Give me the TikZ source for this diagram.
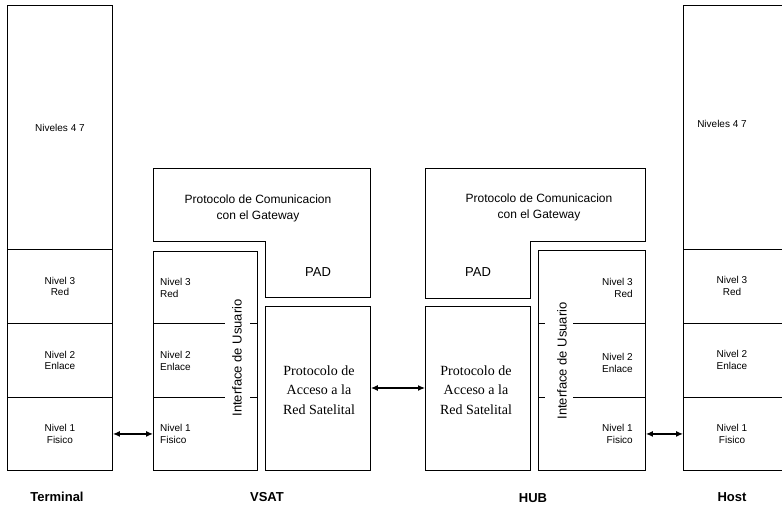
\documentclass[tikz,border=0pt]{standalone}
\usepackage{fontspec}
\setmainfont{Liberation Serif}
\setsansfont{Liberation Sans}
\usetikzlibrary{arrows.meta}
\tikzset{
  box/.style={draw, line width=0.9pt},
  cell/.style={box, inner sep=0pt, anchor=north west, align=center,
    font=\sffamily\fontsize{10}{11.5}\selectfont},
  niv/.style={inner sep=0pt, font=\sffamily\fontsize{10}{11.5}\selectfont},
  gw/.style={inner sep=0pt, align=center, font=\sffamily\fontsize{12}{16}\selectfont},
  pad/.style={inner sep=0pt, font=\sffamily\fontsize{13}{15}\selectfont},
  acc/.style={inner sep=0pt, align=center, font=\rmfamily\fontsize{14}{19.5}\selectfont},
  vert/.style={inner sep=0pt, rotate=90, font=\sffamily\fontsize{13}{15}\selectfont},
  lbl/.style={inner sep=0pt, font=\sffamily\bfseries\fontsize{13}{15}\selectfont},
  link/.style={line width=1.2pt, {Latex[length=7pt,width=6pt]}-{Latex[length=7pt,width=6pt]}}
}
\begin{document}
\begin{tikzpicture}[x=1pt,y=-1pt]
\useasboundingbox (0,0) rectangle (782,508);
\fill[white] (0,0) rectangle (782,508);
\clip (0,0) rectangle (782,508);

% Terminal
\node[cell, minimum width=105pt, minimum height=244pt] (t47) at (7,5) {Niveles 4 7};
\node[cell, minimum width=105pt, minimum height=74pt] (t3) at (7,249) {Nivel 3\\Red};
\node[cell, minimum width=105pt, minimum height=74pt] (t2) at (7,323) {Nivel 2\\Enlace};
\node[cell, minimum width=105pt, minimum height=73pt] (t1) at (7,397) {Nivel 1\\Fisico};
\node[lbl] (lt) at (57,497) {Terminal};

% VSAT
\draw[box] (153,168) -- (370,168) -- (370,297) -- (265,297) -- (265,241) -- (153,241) -- cycle;
\node[gw] (vgw) at (258,208) {Protocolo de Comunicacion\\con el Gateway};
\node[pad] (vpad) at (318,272) {PAD};
\node[box, inner sep=0pt, anchor=north west, minimum width=104pt, minimum height=219pt] (vui) at (153,251) {};
\draw[box] (153,323) -- (225,323) (250,323) -- (257,323);
\draw[box] (153,397) -- (225,397) (250,397) -- (257,397);
\node[niv, anchor=west, align=left] (v3) at (160,288) {Nivel 3\\Red};
\node[niv, anchor=west, align=left] (v2) at (160,361) {Nivel 2\\Enlace};
\node[niv, anchor=west, align=left] (v1) at (160,434) {Nivel 1\\Fisico};
\node[vert] (vint) at (237,358) {Interface de Usuario};
\node[box, inner sep=0pt, anchor=north west, minimum width=105pt, minimum height=164pt] (vacc) at (265,306) {};
\node[acc] (vacct) at (319,390) {Protocolo de\\Acceso a la\\Red Satelital};
\node[lbl] (lv) at (267,497) {VSAT};

% HUB
\draw[box] (425,168) -- (645,168) -- (645,241) -- (530,241) -- (530,298) -- (425,298) -- cycle;
\node[gw] (hgw) at (539,207) {Protocolo de Comunicacion\\con el Gateway};
\node[pad] (hpad) at (478,272) {PAD};
\node[box, inner sep=0pt, anchor=north west, minimum width=105pt, minimum height=164pt] (hacc) at (425,306) {};
\node[acc] (hacct) at (476,390) {Protocolo de\\Acceso a la\\Red Satelital};
\node[box, inner sep=0pt, anchor=north west, minimum width=107pt, minimum height=220pt] (hui) at (538,250) {};
\draw[box] (538,323) -- (545,323) (573,323) -- (645,323);
\draw[box] (538,397) -- (545,397) (573,397) -- (645,397);
\node[niv, anchor=east, align=right] (h3) at (633,288) {Nivel 3\\Red};
\node[niv, anchor=east, align=right] (h2) at (633,363) {Nivel 2\\Enlace};
\node[niv, anchor=east, align=right] (h1) at (633,434) {Nivel 1\\Fisico};
\node[vert] (hint) at (562,361) {Interface de Usuario};
\node[lbl] (lh) at (533,498) {HUB};

% Host
\node[cell, minimum width=105pt, minimum height=244pt] (s47) at (683,5) {};
\node[niv] (s47t) at (722,124) {Niveles 4 7};
\node[cell, minimum width=105pt, minimum height=74pt] (s3) at (683,249) {};
\node[cell, minimum width=105pt, minimum height=74pt] (s2) at (683,323) {};
\node[cell, minimum width=105pt, minimum height=73pt] (s1) at (683,397) {};
\node[niv, align=center] (s3t) at (732,286) {Nivel 3\\Red};
\node[niv, align=center] (s2t) at (732,360) {Nivel 2\\Enlace};
\node[niv, align=center] (s1t) at (732,434) {Nivel 1\\Fisico};
\node[lbl] (ls) at (732,497) {Host};

% connectors
\draw[link] (t1.east) -- (t1.east -| vui.west);
\draw[link] (vacc.east |- 0,388) -- (hacc.west |- 0,388);
\draw[link] (hui.east |- s1.west) -- (s1.west);
\end{tikzpicture}
\end{document}
